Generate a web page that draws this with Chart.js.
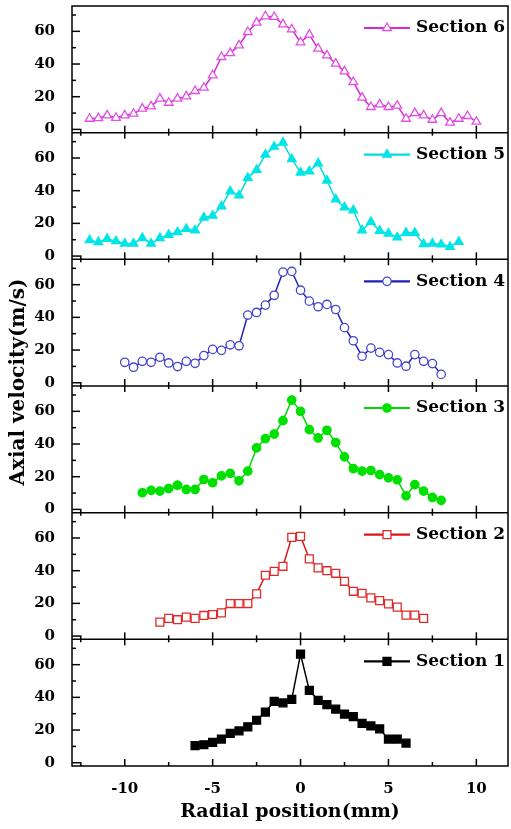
<!DOCTYPE html>
<html>
<head>
<meta charset="utf-8">
<script src="https://cdn.jsdelivr.net/npm/chart.js@4.4.1/dist/chart.umd.min.js"></script>
<style>
  html, body { margin: 0; padding: 0; background: #fff; }
  #wrap { width: 511px; height: 829px; }
</style>
</head>
<body>
<div id="wrap"><canvas id="chart" width="511" height="829"></canvas></div>
<script>
// radial position (mm) / axial velocity (m/s) per section
const xSection1 = [-6, -5.5, -5, -4.5, -4, -3.5, -3, -2.5, -2, -1.5, -1, -0.5, 0, 0.5, 1, 1.5, 2, 2.5, 3, 3.5, 4, 4.5, 5, 5.5, 6];
const ySection1 = [10.5, 11, 12.5, 14.5, 18, 19.5, 22, 26, 31, 37.6, 36.6, 38.8, 66.4, 44.3, 38.2, 35.6, 32.8, 29.8, 28.2, 24.1, 22.5, 20.7, 14.5, 14.5, 12];

const xSection2 = [-8, -7.5, -7, -6.5, -6, -5.5, -5, -4.5, -4, -3.5, -3, -2.5, -2, -1.5, -1, -0.5, 0, 0.5, 1, 1.5, 2, 2.5, 3, 3.5, 4, 4.5, 5, 5.5, 6, 6.5, 7];
const ySection2 = [8.5, 10.8, 10, 11.6, 10.8, 12.6, 13.2, 14.2, 19.9, 19.9, 19.9, 25.8, 37.2, 39.6, 42.7, 60.4, 61, 47.2, 41.7, 40, 38.4, 33.5, 27.4, 26.2, 23.4, 21.7, 19.7, 17.7, 12.8, 12.8, 10.8];

const xSection3 = [-9, -8.5, -8, -7.5, -7, -6.5, -6, -5.5, -5, -4.5, -4, -3.5, -3, -2.5, -2, -1.5, -1, -0.5, 0, 0.5, 1, 1.5, 2, 2.5, 3, 3.5, 4, 4.5, 5, 5.5, 6, 6.5, 7, 7.5, 8];
const ySection3 = [10.2, 11.6, 11.2, 12.8, 14.8, 12.2, 12.2, 18.3, 16.3, 20.5, 22, 17.5, 23.4, 37.6, 43.3, 46.1, 54.3, 66.9, 60, 48.8, 43.7, 48.4, 40.9, 32.1, 25, 23.4, 23.8, 21.3, 19.3, 18.1, 8.3, 15.2, 11.2, 7.3, 5.5];

const xSection4 = [-10, -9.5, -9, -8.5, -8, -7.5, -7, -6.5, -6, -5.5, -5, -4.5, -4, -3.5, -3, -2.5, -2, -1.5, -1, -0.5, 0, 0.5, 1, 1.5, 2, 2.5, 3, 3.5, 4, 4.5, 5, 5.5, 6, 6.5, 7, 7.5, 8];
const ySection4 = [12.5, 9.5, 13.1, 12.5, 15.6, 12.1, 9.9, 13.1, 11.9, 16.6, 20.4, 19.8, 23.2, 22.6, 41.4, 43, 47.5, 53.5, 67.7, 68.1, 56.6, 49.9, 46.5, 47.9, 44.8, 33.7, 25.7, 16.2, 21.2, 18.6, 17.2, 12.1, 10.1, 17.2, 13.1, 11.7, 5.1];

const xSection5 = [-12, -11.5, -11, -10.5, -10, -9.5, -9, -8.5, -8, -7.5, -7, -6.5, -6, -5.5, -5, -4.5, -4, -3.5, -3, -2.5, -2, -1.5, -1, -0.5, 0, 0.5, 1, 1.5, 2, 2.5, 3, 3.5, 4, 4.5, 5, 5.5, 6, 6.5, 7, 7.5, 8, 8.5, 9];
const ySection5 = [9.7, 8.5, 10.5, 9.1, 7.7, 7.7, 11, 7.7, 11, 13, 14.6, 16.6, 15.8, 23.5, 24.7, 30.4, 39.6, 37.1, 47.9, 52.7, 62.1, 66.9, 69.4, 59.4, 51.1, 51.9, 56.8, 46.2, 34.7, 29.8, 28, 15.8, 20.9, 15.4, 13.8, 11.4, 14.2, 14.2, 7.3, 7.7, 7.1, 5.7, 8.7];

const xSection6 = [-12, -11.5, -11, -10.5, -10, -9.5, -9, -8.5, -8, -7.5, -7, -6.5, -6, -5.5, -5, -4.5, -4, -3.5, -3, -2.5, -2, -1.5, -1, -0.5, 0, 0.5, 1, 1.5, 2, 2.5, 3, 3.5, 4, 4.5, 5, 5.5, 6, 6.5, 7, 7.5, 8, 8.5, 9, 9.5, 10];
const ySection6 = [6.5, 6.9, 8.6, 7.1, 8.6, 9.6, 12.7, 14.1, 18.8, 16.3, 18.8, 20.2, 23.5, 25.5, 33.1, 44.3, 46.7, 51.4, 59.6, 65.3, 69.2, 68.8, 64.3, 61.2, 53.3, 58, 49.4, 45.3, 40.2, 35.5, 29, 19.4, 13.7, 15.3, 13.7, 14.5, 6.5, 10, 8.6, 5.9, 10, 4.1, 6.5, 8.2, 4.7];

const xTicks = [-10, -5, 0, 5, 10];
const xMinorTicks = [-12.5, -7.5, -2.5, 2.5, 7.5];
const yTicks = [0, 20, 40, 60];
const yMinorTicks = [10, 30, 50, 70];

const FONT = 'DejaVu Serif';

// top panel first
const sections = [
  { label: 'Section 6', xs: xSection6, ys: ySection6, line: '#d22ad2', mark: '#e050e0', fill: '#ffffff', style: 'triangle', r: 5 },
  { label: 'Section 5', xs: xSection5, ys: ySection5, line: '#00dcdc', mark: '#00e6e6', fill: '#00e6e6', style: 'triangle', r: 5 },
  { label: 'Section 4', xs: xSection4, ys: ySection4, line: '#2020b8', mark: '#4646cc', fill: '#ffffff', style: 'circle', r: 4.2 },
  { label: 'Section 3', xs: xSection3, ys: ySection3, line: '#00d800', mark: '#00e000', fill: '#00e000', style: 'circle', r: 4.2 },
  { label: 'Section 2', xs: xSection2, ys: ySection2, line: '#d81818', mark: '#e02a2a', fill: '#ffffff', style: 'rect', r: 5.6 },
  { label: 'Section 1', xs: xSection1, ys: ySection1, line: '#000000', mark: '#000000', fill: '#000000', style: 'rect', r: 5.6 }
];

const scales = {
  x: {
    type: 'linear',
    min: -13,
    max: 11.8,
    afterBuildTicks: s => { s.ticks = xTicks.map(v => ({ value: v })); },
    afterFit: s => { s.height = 63; s.paddingLeft = 0; s.paddingRight = 0; },
    grid: { display: false },
    border: { display: false },
    ticks: { font: { family: FONT, size: 15, weight: 'bold' }, color: '#000', padding: 6, maxRotation: 0 },
    title: {
      display: true,
      text: 'Radial position(mm)',
      color: '#000',
      font: { family: FONT, size: 19, weight: 'bold' },
      padding: { top: 2, bottom: 6 }
    }
  }
};

// stacked axes are laid out bottom-up in definition order
for (let i = sections.length - 1; i >= 0; i--) {
  scales['y' + i] = {
    type: 'linear',
    position: 'left',
    stack: 'panels',
    stackWeight: 1,
    min: -2,
    max: 75.5,
    afterBuildTicks: a => { a.ticks = yTicks.map(v => ({ value: v })); },
    afterFit: a => { a.width = 72; a.paddingTop = 0; a.paddingBottom = 0; },
    grid: { display: false },
    border: { display: false },
    ticks: { font: { family: FONT, size: 15, weight: 'bold' }, color: '#000', padding: 9 }
  };
}

const datasets = sections.map((s, i) => ({
  label: s.label,
  data: s.xs.map((x, k) => ({ x: x, y: s.ys[k] })),
  yAxisID: 'y' + i,
  xAxisID: 'x',
  borderColor: s.line,
  borderWidth: 1.5,
  pointStyle: s.style,
  pointRadius: s.r,
  pointBorderColor: s.mark,
  pointBackgroundColor: s.fill,
  pointBorderWidth: 1.3,
  tension: 0,
  fill: false
}));

function seg(ctx, x1, y1, x2, y2) {
  ctx.beginPath();
  ctx.moveTo(x1, y1);
  ctx.lineTo(x2, y2);
  ctx.stroke();
}

// frames, inward ticks, per-panel legends and the shared y title
const panelDecor = {
  id: 'panelDecor',
  afterDraw(chart) {
    const ctx = chart.ctx;
    const area = chart.chartArea;
    const xs = chart.scales.x;
    ctx.save();
    ctx.strokeStyle = '#000';
    ctx.lineWidth = 1.5;

    sections.forEach((s, i) => {
      const ys = chart.scales['y' + i];
      if (i > 0) seg(ctx, area.left, ys.top, area.right, ys.top);

      yTicks.forEach(v => { const p = ys.getPixelForValue(v); seg(ctx, area.left, p, area.left + 8, p); });
      yMinorTicks.forEach(v => { const p = ys.getPixelForValue(v); if (p > ys.top + 2) seg(ctx, area.left, p, area.left + 4, p); });

      xTicks.forEach(v => {
        const p = xs.getPixelForValue(v);
        seg(ctx, p, ys.bottom, p, ys.bottom - 7);
        if (i > 0) seg(ctx, p, ys.top, p, ys.top + 6);
      });
      xMinorTicks.forEach(v => {
        const p = xs.getPixelForValue(v);
        seg(ctx, p, ys.bottom, p, ys.bottom - 4);
        if (i > 0) seg(ctx, p, ys.top, p, ys.top + 3);
      });

      // legend entry
      const ly = ys.top + 22;
      const lx = area.right - 144;
      ctx.save();
      ctx.strokeStyle = s.line;
      ctx.lineWidth = 2.2;
      seg(ctx, lx, ly, lx + 46, ly);
      ctx.fillStyle = s.fill;
      ctx.strokeStyle = s.mark;
      ctx.lineWidth = 1.3;
      Chart.helpers.drawPoint(ctx, { pointStyle: s.style, radius: s.r, rotation: 0, borderWidth: 1.3 }, lx + 23, ly);
      ctx.fillStyle = '#000';
      ctx.font = 'bold 17px "' + FONT + '"';
      ctx.textAlign = 'left';
      ctx.textBaseline = 'middle';
      ctx.fillText(s.label, lx + 52, ly);
      ctx.restore();
    });

    ctx.strokeRect(area.left, area.top, area.right - area.left, area.bottom - area.top);

    // y axis title
    ctx.save();
    ctx.translate(19, (area.top + area.bottom) / 2 - 4);
    ctx.rotate(-Math.PI / 2);
    ctx.fillStyle = '#000';
    ctx.font = 'bold 20px "' + FONT + '"';
    ctx.textAlign = 'center';
    ctx.textBaseline = 'middle';
    ctx.fillText('Axial velocity(m/s)', 0, 0);
    ctx.restore();

    ctx.restore();
  }
};

new Chart(document.getElementById('chart'), {
  type: 'line',
  data: { datasets: datasets },
  options: {
    responsive: false,
    animation: false,
    devicePixelRatio: 1,
    layout: { autoPadding: false, padding: { top: 6, right: 3, bottom: 0, left: 0 } },
    plugins: { legend: { display: false }, tooltip: { enabled: false } },
    scales: scales
  },
  plugins: [panelDecor]
});
</script>
</body>
</html>
